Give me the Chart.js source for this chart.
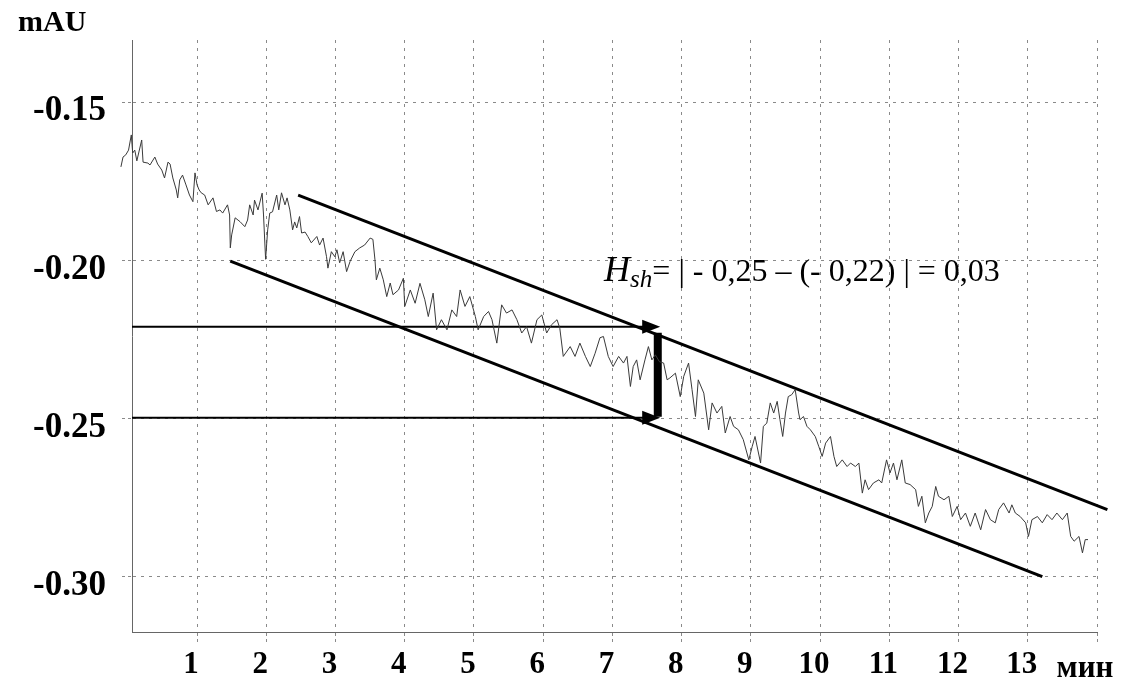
<!DOCTYPE html>
<html><head><meta charset="utf-8">
<script src="https://cdn.jsdelivr.net/npm/chart.js@4.4.1/dist/chart.umd.min.js"></script>
<style>html,body{margin:0;padding:0;background:#fff}canvas{display:block}</style>
</head><body>
<canvas id="c" width="1134" height="682"></canvas>
<script>
// ---- axis ticks ----
const xTickValues = [1,2,3,4,5,6,7,8,9,10,11,12,13,14];
const xTickLabels = ['1','2','3','4','5','6','7','8','9','10','11','12','13',''];
const xRange = [0.06, 14];
const yTickValues = [-0.15,-0.20,-0.25,-0.30];
const yTickLabels = ['-0.15','-0.20','-0.25','-0.30'];
const yRange = [-0.3174, -0.1303];
const yAxisTitle = 'mAU';
const xAxisTitle = 'мин';

// ---- chromatogram baseline signal (min, mAU) ----
const signalTime = [
-0.10,-0.07,-0.03,0.01,0.05,0.07,0.10,0.13,0.20,0.22,0.29,0.32,0.39,0.43,0.49,0.53,0.58,0.61,0.65,0.70,
0.72,0.75,0.79,0.84,0.89,0.94,0.97,1.00,1.03,1.06,1.11,1.16,1.23,1.28,1.33,1.37,1.44,1.47,1.48,1.50,
1.55,1.62,1.69,1.73,1.76,1.81,1.83,1.88,1.94,1.96,1.99,2.02,2.05,2.09,2.15,2.18,2.22,2.27,2.30,2.34,
2.38,2.41,2.44,2.48,2.51,2.56,2.60,2.65,2.73,2.77,2.82,2.87,2.89,2.94,2.99,3.02,3.06,3.11,3.16,3.21,
3.28,3.35,3.42,3.50,3.54,3.57,3.59,3.64,3.69,3.74,3.79,3.83,3.91,3.98,4.00,4.08,4.15,4.22,4.29,4.34,
4.41,4.46,4.53,4.61,4.68,4.75,4.80,4.87,4.94,5.02,5.06,5.14,5.21,5.26,5.33,5.40,5.47,5.55,5.62,5.69,
5.76,5.83,5.91,5.98,6.05,6.12,6.20,6.24,6.29,6.39,6.46,6.53,6.61,6.68,6.75,6.82,6.87,6.94,7.01,7.09,
7.16,7.21,7.26,7.30,7.35,7.40,7.47,7.52,7.57,7.62,7.68,7.74,7.79,7.83,7.91,7.98,8.03,8.10,8.15,8.20,
8.24,8.32,8.39,8.44,8.51,8.58,8.63,8.70,8.75,8.82,8.89,8.97,9.02,9.06,9.14,9.18,9.23,9.28,9.33,9.38,
9.42,9.46,9.50,9.54,9.59,9.64,9.69,9.71,9.76,9.81,9.86,9.93,9.98,10.03,10.08,10.15,10.20,10.24,10.32,10.39,
10.44,10.51,10.56,10.61,10.65,10.70,10.77,10.85,10.89,10.96,11.01,11.06,11.11,11.18,11.23,11.30,11.38,11.42,11.47,11.52,
11.57,11.62,11.67,11.71,11.79,11.86,11.91,11.98,12.03,12.10,12.17,12.24,12.32,12.39,12.46,12.53,12.58,12.65,12.73,12.77,
12.82,12.89,12.97,13.01,13.06,13.14,13.21,13.28,13.35,13.42,13.50,13.57,13.62,13.67,13.74,13.79,13.83,13.87
];
const signalMAU = [
-0.1704,-0.1673,-0.1666,-0.1651,-0.1603,-0.1660,-0.1651,-0.1685,-0.1619,-0.1689,-0.1692,-0.1698,-0.1673,-0.1695,-0.1714,-0.1739,-0.1689,-0.1695,-0.1739,-0.1777,
-0.1802,-0.1745,-0.1730,-0.1761,-0.1793,-0.1814,-0.1723,-0.1761,-0.1777,-0.1786,-0.1793,-0.1824,-0.1802,-0.1845,-0.1840,-0.1850,-0.1824,-0.1856,-0.1960,-0.1919,
-0.1865,-0.1877,-0.1893,-0.1872,-0.1824,-0.1856,-0.1809,-0.1840,-0.1787,-0.1856,-0.1996,-0.1903,-0.1850,-0.1846,-0.1793,-0.1840,-0.1786,-0.1824,-0.1802,-0.1840,
-0.1903,-0.1878,-0.1897,-0.1861,-0.1913,-0.1910,-0.1924,-0.1944,-0.1924,-0.1951,-0.1929,-0.1988,-0.2024,-0.1972,-0.1988,-0.1966,-0.2007,-0.1972,-0.2035,-0.2003,
-0.1972,-0.1960,-0.1951,-0.1929,-0.1933,-0.1998,-0.2061,-0.2024,-0.2061,-0.2114,-0.2071,-0.2108,-0.2093,-0.2056,-0.2145,-0.2093,-0.2135,-0.2072,-0.2124,-0.2177,
-0.2103,-0.2219,-0.2187,-0.2219,-0.2156,-0.2177,-0.2093,-0.2145,-0.2114,-0.2177,-0.2219,-0.2177,-0.2161,-0.2187,-0.2261,-0.2140,-0.2166,-0.2156,-0.2187,-0.2229,
-0.2209,-0.2261,-0.2187,-0.2172,-0.2229,-0.2203,-0.2187,-0.2214,-0.2303,-0.2272,-0.2303,-0.2261,-0.2303,-0.2335,-0.2293,-0.2244,-0.2240,-0.2303,-0.2335,-0.2303,
-0.2324,-0.2303,-0.2398,-0.2335,-0.2314,-0.2377,-0.2314,-0.2272,-0.2314,-0.2298,-0.2320,-0.2324,-0.2377,-0.2371,-0.2356,-0.2430,-0.2366,-0.2324,-0.2408,-0.2493,
-0.2377,-0.2419,-0.2535,-0.2450,-0.2482,-0.2461,-0.2545,-0.2493,-0.2524,-0.2535,-0.2566,-0.2630,-0.2587,-0.2556,-0.2640,-0.2524,-0.2514,-0.2450,-0.2482,-0.2445,
-0.2503,-0.2556,-0.2482,-0.2430,-0.2424,-0.2408,-0.2482,-0.2503,-0.2493,-0.2524,-0.2535,-0.2556,-0.2587,-0.2619,-0.2577,-0.2556,-0.2619,-0.2651,-0.2630,-0.2651,
-0.2640,-0.2651,-0.2640,-0.2735,-0.2693,-0.2724,-0.2703,-0.2693,-0.2703,-0.2630,-0.2671,-0.2640,-0.2693,-0.2630,-0.2703,-0.2708,-0.2724,-0.2777,-0.2745,-0.2829,
-0.2798,-0.2777,-0.2714,-0.2745,-0.2756,-0.2745,-0.2809,-0.2777,-0.2819,-0.2798,-0.2840,-0.2798,-0.2851,-0.2787,-0.2819,-0.2829,-0.2787,-0.2766,-0.2798,-0.2772,
-0.2798,-0.2809,-0.2829,-0.2872,-0.2819,-0.2809,-0.2829,-0.2803,-0.2819,-0.2798,-0.2819,-0.2798,-0.2872,-0.2887,-0.2872,-0.2924,-0.2882,-0.2882
];

// ---- drift channel & noise construction ----
const upperBoundTime = [2.46, 14.15];
const upperBoundMAU  = [-0.1793, -0.2787];
const lowerBoundTime = [1.48, 13.21];
const lowerBoundMAU  = [-0.2002, -0.2999];
const levelArrowTime = [0.06, 7.57];
const levelArrowTipTime = 7.69;
const levelArrowMAU  = [-0.2209, -0.2497];
const heightBarTime  = [7.655, 7.655];
const heightBarMAU   = [-0.2228, -0.2494];
const formulaTime = 6.88;
const formulaMAU  = -0.2064;
const formulaMain = 'H';
const formulaSub  = 'sh';
const formulaRest = '= | - 0,25 – (- 0,22) | = 0,03';

const pts = (xs, ys) => xs.map((x, i) => ({x, y: ys[i]}));
const SERIF = '"Liberation Serif", "Times New Roman", serif';

const annotPlugin = {
  id: 'annot',
  beforeDraw(chart) {
    const ctx = chart.ctx;
    ctx.save(); ctx.fillStyle = '#fff'; ctx.fillRect(0, 0, chart.width, chart.height); ctx.restore();
  },
  afterDatasetsDraw(chart) {
    const ctx = chart.ctx, xs = chart.scales.x, ys = chart.scales.y;
    ctx.save();
    ctx.fillStyle = '#000';
    levelArrowMAU.forEach(v => {
      const tx = xs.getPixelForValue(levelArrowTipTime), ty = ys.getPixelForValue(v);
      ctx.beginPath();
      ctx.moveTo(tx, ty);
      ctx.lineTo(tx - 18, ty - 7);
      ctx.lineTo(tx - 18, ty + 7);
      ctx.closePath();
      ctx.fill();
    });
    const fx = xs.getPixelForValue(formulaTime), fy = ys.getPixelForValue(formulaMAU);
    ctx.textBaseline = 'alphabetic';
    ctx.textAlign = 'left';
    ctx.font = 'italic 36px ' + SERIF;
    ctx.fillText(formulaMain, fx, fy);
    let w = ctx.measureText(formulaMain).width;
    ctx.font = 'italic 25px ' + SERIF;
    ctx.fillText(formulaSub, fx + w, fy + 6);
    w += ctx.measureText(formulaSub).width;
    ctx.font = '32px ' + SERIF;
    ctx.fillText(formulaRest, fx + w, fy);
    ctx.font = 'bold 30px ' + SERIF;
    ctx.fillText(yAxisTitle, 18, 31);
    ctx.font = 'bold 31px ' + SERIF;
    ctx.textAlign = 'center';
    ctx.fillText(xAxisTitle, 1085, 677);
    ctx.restore();
  }
};

const lineDs = (data, width) => ({
  data, borderColor: '#000', borderWidth: width, pointRadius: 0, fill: false,
  tension: 0, clip: false, borderCapStyle: 'butt'
});

new Chart(document.getElementById('c'), {
  type: 'line',
  data: {
    datasets: [
      {data: pts(signalTime, signalMAU), borderColor: '#3a3a3a', borderWidth: 1, pointRadius: 0,
       fill: false, tension: 0, clip: false},
      lineDs(pts(upperBoundTime, upperBoundMAU), 3),
      lineDs(pts(lowerBoundTime, lowerBoundMAU), 3),
      lineDs(pts(levelArrowTime, [levelArrowMAU[0], levelArrowMAU[0]]), 2),
      lineDs(pts(levelArrowTime, [levelArrowMAU[1], levelArrowMAU[1]]), 2),
      lineDs(pts(heightBarTime, heightBarMAU), 8)
    ]
  },
  options: {
    responsive: false,
    animation: false,
    events: [],
    layout: {padding: {top: 40, right: 37, left: 0, bottom: 0}},
    plugins: {legend: {display: false}, tooltip: {enabled: false}},
    scales: {
      x: {
        type: 'linear', bounds: 'data',
        afterBuildTicks: s => { s.min = xRange[0]; s.max = xRange[1]; s.ticks = xTickValues.map(v => ({value: v})); },
        afterFit: s => { s.height = 50; },
        grid: {color: '#8a8a8a', lineWidth: 1, tickLength: 10, tickColor: '#8a8a8a', tickBorderDash: [3, 3]},
        border: {display: true, color: '#666', width: 1, dash: [3, 5]},
        ticks: {
          autoSkip: false, maxRotation: 0, padding: 4, labelOffset: -6, color: '#000',
          font: {family: SERIF, size: 31, weight: 'bold'},
          callback: (v, i) => xTickLabels[i]
        }
      },
      y: {
        type: 'linear', min: yRange[0], max: yRange[1],
        afterBuildTicks: s => { s.ticks = yTickValues.map(v => ({value: v})); },
        afterFit: s => { s.width = 132; },
        grid: {color: '#8a8a8a', lineWidth: 1, tickLength: 10, tickColor: '#8a8a8a', tickBorderDash: [3, 3]},
        border: {display: true, color: '#666', width: 1, dash: [3, 5]},
        ticks: {
          autoSkip: false, padding: 16, labelOffset: 9, color: '#000',
          font: {family: SERIF, size: 35, weight: 'bold'},
          callback: (v, i) => yTickLabels[i]
        }
      }
    }
  },
  plugins: [annotPlugin]
});
</script>
</body></html>
